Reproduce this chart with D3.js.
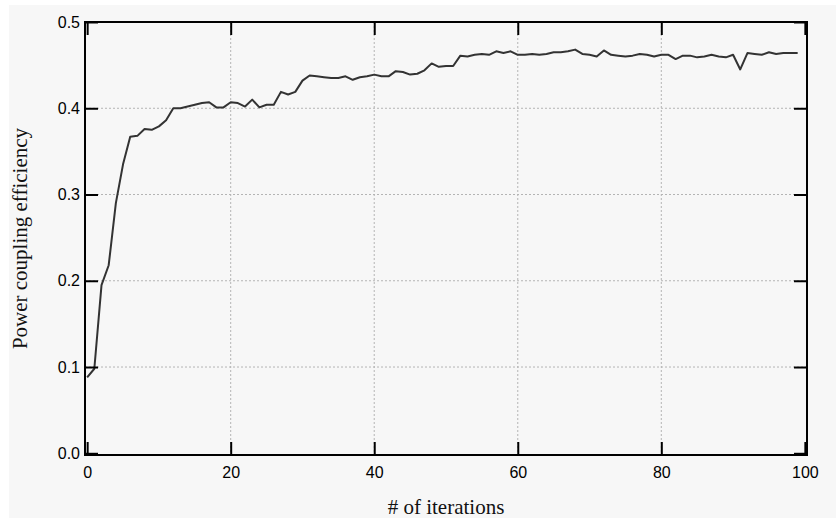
<!DOCTYPE html>
<html lang="en">
<head>
    <meta charset="UTF-8">
    <title>Power coupling efficiency</title>
    <script src="https://cdn.jsdelivr.net/npm/d3@7"></script>
    <style>
        body { margin: 0; background: #fff; }
        #chart { position: absolute; left: 0; top: 0; }
    </style>
</head>
<body>
<div id="chart"></div>
<script>
    // efficiency per iteration
    const efficiency = [
        0.088, 0.098, 0.195, 0.218, 0.290, 0.335, 0.367, 0.368, 0.376, 0.375,
        0.379, 0.386, 0.400, 0.400, 0.402, 0.404, 0.406, 0.407, 0.401, 0.401,
        0.407, 0.406, 0.402, 0.410, 0.401, 0.404, 0.404, 0.419, 0.416, 0.419,
        0.432, 0.438, 0.437, 0.436, 0.435, 0.435, 0.437, 0.433, 0.436, 0.437,
        0.439, 0.437, 0.437, 0.443, 0.442, 0.439, 0.440, 0.444, 0.452, 0.448,
        0.449, 0.449, 0.461, 0.460, 0.462, 0.463, 0.462, 0.466, 0.464, 0.466,
        0.462, 0.462, 0.463, 0.462, 0.463, 0.465, 0.465, 0.466, 0.468, 0.463,
        0.462, 0.460, 0.467, 0.462, 0.461, 0.460, 0.461, 0.463, 0.462, 0.460,
        0.462, 0.462, 0.457, 0.461, 0.461, 0.459, 0.460, 0.462, 0.460, 0.459,
        0.462, 0.445, 0.464, 0.463, 0.462, 0.465, 0.463, 0.464, 0.464, 0.464
    ]
    const xTicks = [0, 20, 40, 60, 80, 100]
    const yTicks = [0.0, 0.1, 0.2, 0.3, 0.4, 0.5]

    const width = 836
    const height = 518
    const mLeft = 85, mRight = 807, mTop = 22, mBottom = 455

    const svg = d3.select("#chart")
        .append("svg")
        .attr("width", width)
        .attr("height", height)

    svg.append("rect")
        .attr("x", 9).attr("y", 5)
        .attr("width", width - 9).attr("height", height - 5)
        .attr("fill", "#f7f7f7")

    const x = d3.scaleLinear().domain([-0.3, 100.3]).range([mLeft, mRight])
    const y = d3.scaleLinear().domain([-0.002, 0.5]).range([mBottom, mTop])

    // grid
    svg.append("g").selectAll("line")
        .data(xTicks.slice(1, -1))
        .enter().append("line")
        .attr("x1", d => x(d)).attr("x2", d => x(d))
        .attr("y1", mTop).attr("y2", mBottom)
        .attr("stroke", "#b4b4b4").attr("stroke-width", 1)
        .attr("stroke-dasharray", "2,2")
    svg.append("g").selectAll("line")
        .data(yTicks.slice(1, -1))
        .enter().append("line")
        .attr("x1", mLeft).attr("x2", mRight)
        .attr("y1", d => y(d)).attr("y2", d => y(d))
        .attr("stroke", "#b4b4b4").attr("stroke-width", 1)
        .attr("stroke-dasharray", "2,2")

    // line
    const line = d3.line()
        .x((d, i) => x(i))
        .y(d => y(d))
    svg.append("path")
        .datum(efficiency)
        .attr("d", line)
        .attr("fill", "none")
        .attr("stroke", "#333")
        .attr("stroke-width", 2)
        .attr("stroke-linejoin", "round")

    // axes, ticks inward on all four sides
    const tickLen = 13
    const axisStyle = g => {
        g.select(".domain").remove()
        g.selectAll(".tick line").attr("stroke", "#000").attr("stroke-width", 2)
        g.selectAll(".tick text")
            .attr("font-family", "'Liberation Sans', Arial, sans-serif")
            .attr("font-size", 16).attr("fill", "#000")
    }
    svg.append("g")
        .attr("transform", `translate(0,${mBottom})`)
        .call(d3.axisBottom(x).tickValues(xTicks).tickSizeInner(-tickLen).tickSizeOuter(0).tickPadding(12).tickFormat(d3.format("d")))
        .call(axisStyle)
    svg.append("g")
        .attr("transform", `translate(0,${mTop})`)
        .call(d3.axisTop(x).tickValues(xTicks).tickSizeInner(-tickLen).tickSizeOuter(0).tickFormat(""))
        .call(axisStyle)
    svg.append("g")
        .attr("transform", `translate(${mLeft},0)`)
        .call(d3.axisLeft(y).tickValues(yTicks).tickSizeInner(-tickLen).tickSizeOuter(0).tickPadding(5).tickFormat(d3.format(".1f")))
        .call(axisStyle)
    svg.append("g")
        .attr("transform", `translate(${mRight},0)`)
        .call(d3.axisRight(y).tickValues(yTicks).tickSizeInner(-tickLen).tickSizeOuter(0).tickFormat(""))
        .call(axisStyle)

    svg.append("rect")
        .attr("x", mLeft).attr("y", mTop)
        .attr("width", mRight - mLeft).attr("height", mBottom - mTop)
        .attr("fill", "none").attr("stroke", "#000").attr("stroke-width", 2)

    // titles
    svg.append("text")
        .attr("x", (mLeft + mRight) / 2).attr("y", 514)
        .attr("text-anchor", "middle")
        .attr("font-family", "'Liberation Serif', 'Times New Roman', serif")
        .attr("font-size", 21).attr("fill", "#111")
        .text("# of iterations")
    svg.append("text")
        .attr("transform", `translate(27,${(mTop + mBottom) / 2}) rotate(-90)`)
        .attr("text-anchor", "middle")
        .attr("font-family", "'Liberation Serif', 'Times New Roman', serif")
        .attr("font-size", 21).attr("fill", "#111")
        .text("Power coupling efficiency")
</script>
</body>
</html>
